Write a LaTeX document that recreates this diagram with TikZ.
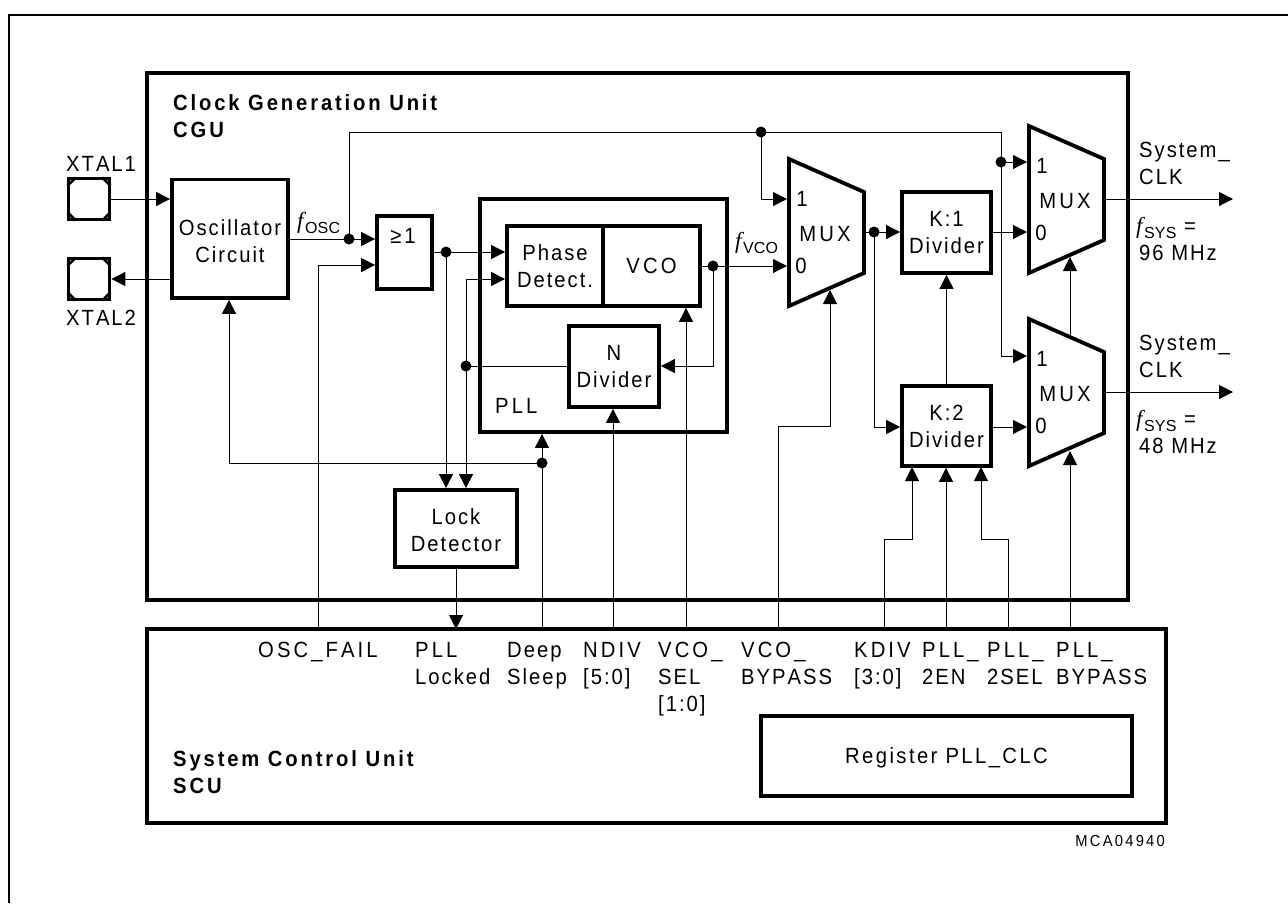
\documentclass[tikz,border=0pt]{standalone}
\usepackage{fontspec}
\usetikzlibrary{arrows.meta,calc}
\newfontfamily\labf[LetterSpace=9,FakeStretch=0.92,Kerning=Off]{Liberation Sans}
\newfontfamily\capf[LetterSpace=14,FakeStretch=0.92,Kerning=Off]{Liberation Sans}
\newfontfamily\regf[LetterSpace=11,FakeStretch=0.92,Kerning=Off]{Liberation Sans}
\newfontfamily\boldf[LetterSpace=13,FakeStretch=0.92]{Liberation Sans}
\newfontfamily\serf{Liberation Serif}
\newfontfamily\subf[LetterSpace=1]{Liberation Sans}
\newcommand{\lab}{\labf\fontsize{22}{27}\selectfont}
\newcommand{\sml}{\capf\fontsize{16}{16}\selectfont}
\newcommand{\fsub}[1]{{\serf\itshape\fontsize{23}{23}\selectfont f}\kern1.5pt\raisebox{-5pt}{\subf\fontsize{16}{16}\selectfont #1}}
\newcommand{\T}{\rule{0pt}{20pt}}
\tikzset{
 x=1pt,y=-1pt,
 sig/.style={line width=1pt,black,-{Triangle[length=14pt,width=14pt]}},
 wire/.style={line width=1pt,black},
 blk/.style={draw=black,line width=3.8pt,inner sep=0pt,align=center,font=\lab,anchor=north west,xshift=-1.9pt,yshift=1.9pt},
 hid/.style={inner sep=0pt,align=center,font=\lab},
 muxshape/.style={draw=black,line width=3.8pt,miter limit=10},
 dot/.style={circle,fill=black,inner sep=0pt,minimum size=11pt},
 lab/.style={inner sep=0pt,anchor=north west,align=left,font=\lab},
}
\begin{document}
\begin{tikzpicture}
\useasboundingbox (0,0) rectangle (1288,903);
\draw[line width=2pt,black] (9,903) -- (9,15) -- (1288,15);
% main boxes
\node[blk,minimum width=981pt,minimum height=527pt] (cgu) at (147,73) {};
\node[blk,minimum width=1019pt,minimum height=194pt] (scu) at (147,629) {};
\node[blk,minimum width=371pt,minimum height=80pt] (reg) at (761,716) {\T\regf Register PLL\_CLC};
\node[lab,font=\lab\boldf\bfseries] (cgut) at (173,91) {\strut Clock Generation Unit\\CGU};
\node[lab,font=\lab\boldf\bfseries] (scut) at (173,747) {\strut System Control Unit\\SCU};
% pads
\foreach \n/\yy in {pad1/199,pad2/279}{
 \node[draw=black,line width=3.8pt,minimum size=41pt,inner sep=0] (\n) at (89,\yy) {};
}
\foreach \n in {pad1,pad2}{
 \draw[line width=2.6pt] ($(\n.north west)+(1,9)$) -- ($(\n.north west)+(9,1)$);
 \draw[line width=2.6pt] ($(\n.north east)+(-1,9)$) -- ($(\n.north east)+(-9,1)$);
 \draw[line width=2.6pt] ($(\n.south west)+(1,-9)$) -- ($(\n.south west)+(9,-1)$);
 \draw[line width=2.6pt] ($(\n.south east)+(-1,-9)$) -- ($(\n.south east)+(-9,-1)$);
}
\node[lab] (x1) at (66,152) {\strut XTAL1};
\node[lab] (x2) at (66,306) {\strut XTAL2};
% blocks
\node[blk,minimum width=116pt,minimum height=118.5pt] (osc) at (172,179.5) {\T Oscillator\\Circuit};
\node[blk,minimum width=55pt,minimum height=73pt] (or) at (377,216) {};
\node[hid] (ort) at (403,236) {\capf ≥1};
\node[blk,minimum width=247pt,minimum height=233pt] (pll) at (480,199) {};
\node[lab] (pllt) at (495,394) {\strut\capf PLL};
\node[blk,minimum width=96pt,minimum height=80pt] (pd) at (507,226) {Phase\\Detect.};
\node[blk,minimum width=97pt,minimum height=80pt] (vco) at (603,226) {\capf VCO};
\node[blk,minimum width=90pt,minimum height=81pt] (ndiv) at (569,326) {N\\Divider};
\node[blk,minimum width=122pt,minimum height=77pt] (lock) at (395,490) {\T Lock\\Detector};
\node[blk,minimum width=89pt,minimum height=81pt] (k1) at (902,192) {K:1\\Divider};
\node[blk,minimum width=89pt,minimum height=80pt] (k2) at (902,386) {K:2\\Divider};
% muxes
\newcommand{\mux}[3]{% name, left x, top y
 \draw[muxshape] (#2,#3) -- (#2+75,#3+33) -- (#2+75,#3+114) -- (#2,#3+147) -- cycle;
 \node[hid,inner sep=0,minimum width=79pt,minimum height=147pt,anchor=north west] (#1) at (#2-2,#3) {};
 \node[hid] (#1t) at (#2+36,#3+75) {\capf MUX};
 \node[hid] (#1a) at (#2+13,#3+40) {1};
 \node[hid] (#1b) at (#2+12,#3+107) {0};
}
\mux{m1}{789}{159}
\mux{m2}{1029}{126}
\mux{m3}{1029}{319}
% junctions
\coordinate (jo) at (349,239);
\coordinate (jtop) at (349,132);
\coordinate (jm) at (761,132);
\coordinate (jr) at (1001,132);
\coordinate (jm1) at (761,199);
\coordinate (jr1) at (1001,162);
\coordinate (jr2) at (1001,356);
\coordinate (jor) at (446,252);
\coordinate (jfb) at (466,366);
\coordinate (jfbt) at (466,279);
\coordinate (jv) at (713,266);
\coordinate (jvd) at (713,366);
\coordinate (jd) at (542,463);
\coordinate (jdl) at (229,463);
\coordinate (jk) at (874,232);
\coordinate (jkd) at (874,427);
% signal labels
\node[hid,anchor=base west] (fo) at (297,228) {\fsub{OSC}};
\node[hid,anchor=base west] (fv) at (735,248) {\fsub{VCO}};
\node[lab] (sys1) at (1139,138) {\strut System\_\\CLK};
\node[lab] (sys2) at (1139,331) {\strut System\_\\CLK};
\node[lab] (fs1) at (1136,214.5) {\strut\fsub{SYS} =\\\hspace*{3pt}96 MHz};
\node[lab] (fs2) at (1136,407.5) {\strut\fsub{SYS} =\\\hspace*{3pt}48 MHz};
\coordinate (out1) at (1233,199);
\coordinate (out2) at (1233,392);
% bottom labels
\node[lab] (l1) at (258,638) {\strut\capf OSC\_FAIL};
\node[lab] (l2) at (415,638) {\strut\capf PLL\\\labf Locked};
\node[lab] (l3) at (507,638) {\strut Deep\\Sleep};
\node[lab] (l4) at (583,638) {\strut\capf NDIV\\\labf{[}5:0{]}};
\node[lab] (l5) at (658,638) {\strut\capf VCO\_\\SEL\\\labf{[}1:0{]}};
\node[lab] (l6) at (741,638) {\strut\capf VCO\_\\BYPASS};
\node[lab] (l7) at (854,638) {\strut\capf KDIV\\\labf{[}3:0{]}};
\node[lab] (l8) at (922,638) {\strut\capf PLL\_\\2EN};
\node[lab] (l9) at (987,638) {\strut\capf PLL\_\\\labf 2SEL};
\node[lab] (l10) at (1056,638) {\strut\capf PLL\_\\BYPASS};
\node[inner sep=0,anchor=east,font=\sml] (mca) at (1165,841) {MCA04940};
% anchors on boxes
\coordinate (sosc) at (318,629);
\coordinate (slock) at (456,629);
\coordinate (sdeep) at (542,629);
\coordinate (sndiv) at (613,629);
\coordinate (svco) at (686,629);
\coordinate (sbyp) at (778,629);
\coordinate (skdiv) at (884,629);
\coordinate (sen) at (946,629);
\coordinate (ssel) at (1008,629);
\coordinate (spb) at (1070,629);
% wires
\draw[sig] (pad1.east |- 0,199) -- (osc.west |- 0,199);
\draw[sig] (osc.west |- pad2) -- (pad2.east);
\draw[wire] (osc.east |- jo) -- (jo);
\draw[sig] (jo) -- (or.west |- jo);
\draw[sig] (sosc) |- (or.west |- 0,265);
\draw[wire] (jo) -- (jtop) -- (jr) -- (jr2);
\draw[sig] (jm) |- (m1.west |- jm1);
\draw[sig] (jr1) -- (m2.west |- jr1);
\draw[sig] (jr2) -- (m3.west |- jr2);
\draw[wire] (or.east |- jor) -- (jor);
\draw[sig] (jor) -- (pd.west |- jor);
\draw[sig] (jor) -- (jor |- lock.north);
\draw[sig] (jfbt) -- (pd.west |- jfbt);
\draw[sig] (jfbt) -- (jfbt |- lock.north);
\draw[wire] (ndiv.west |- jfb) -- (jfb);
\draw[wire] (vco.east |- jv) -- (jv);
\draw[sig] (jv) -- (m1.west |- jv);
\draw[sig] (jv) |- (ndiv.east |- jvd);
\draw[sig] (sdeep) -- (sdeep |- pll.south);
\draw[sig] (jd) -- (jdl) -- (jdl |- osc.south);
\draw[sig] (lock.south -| slock) -- (slock);
\draw[sig] (sndiv) -- (sndiv |- ndiv.south);
\draw[sig] (svco) -- (svco |- vco.south);
\draw[sig] (sbyp) |- (830,426) -- (830,290);
\draw[wire] (m1.east |- jk) -- (jk);
\draw[sig] (jk) -- (k1.west |- jk);
\draw[sig] (jk) |- (k2.west |- jkd);
\draw[sig] (k1.east |- jk) -- (m2.west |- jk);
\draw[sig] (k2.north) -- (k1.south);
\draw[sig] (k2.east |- jkd) -- (m3.west |- jkd);
\draw[sig] (skdiv) |- (912,539) -- (912,467);
\draw[sig] (sen) -- (sen |- k2.south);
\draw[sig] (ssel) |- (981,539) -- (981,467);
\draw[sig] (spb) -- (1070,451);
\draw[sig] (1070,335) -- (1070,257);
\draw[sig] (m2.east |- out1) -- (out1);
\draw[sig] (m3.east |- out2) -- (out2);
% dots
\foreach \j in {jo,jm,jr1,jor,jfb,jv,jd,jk}{\node[dot] at (\j) {};}
\end{tikzpicture}
\end{document}
